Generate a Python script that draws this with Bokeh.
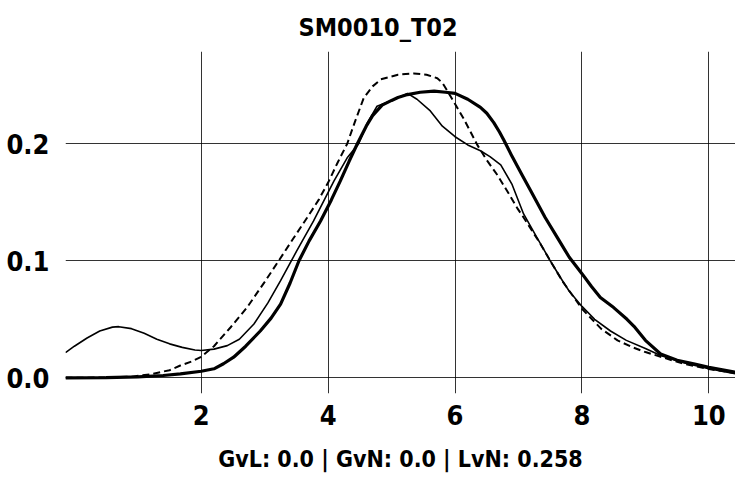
from bokeh.plotting import figure
from bokeh.models import Range1d, Title
from bokeh.embed import file_html
from bokeh.resources import INLINE

title_text = "SM0010_T02"
xlabel_text = "GvL: 0.0 | GvN: 0.0 | LvN: 0.258"
x_ticks = [2, 4, 6, 8, 10]
x_tick_labels = ["2", "4", "6", "8", "10"]
y_ticks = [0.0, 0.1, 0.2]
y_tick_labels = ["0.0", "0.1", "0.2"]

# thin solid series
thin_x = [-0.14, 0.0, 0.2, 0.4, 0.6, 0.7, 0.9, 1.1, 1.3, 1.5, 1.7, 1.9, 2.0, 2.2, 2.41,
          2.6, 2.83, 3.05, 3.25, 3.5, 3.77, 4.09, 4.3, 4.48, 4.62, 4.77, 5.0, 5.25, 5.4,
          5.61, 5.8, 6.0, 6.2, 6.4, 6.55, 6.72, 6.9, 7.08, 7.3, 7.5, 7.66, 7.8, 8.0, 8.2,
          8.45, 8.7, 9.0, 9.24, 9.6, 10.0, 10.42]
thin_y = [0.0216, 0.027, 0.034, 0.040, 0.0433, 0.0437, 0.042, 0.038, 0.033, 0.029, 0.026,
          0.0237, 0.0233, 0.0245, 0.0275, 0.033, 0.046, 0.064, 0.083, 0.108, 0.134, 0.168,
          0.188, 0.200, 0.218, 0.232, 0.237, 0.243, 0.238, 0.228, 0.215, 0.206, 0.199,
          0.194, 0.189, 0.182, 0.165, 0.140, 0.119, 0.100, 0.0857, 0.074, 0.061, 0.050,
          0.040, 0.032, 0.025, 0.019, 0.013, 0.0077, 0.0034]

# dashed series
dash_x = [-0.14, 0.5, 0.9, 1.2, 1.5, 1.67, 1.85, 2.0, 2.2, 2.46, 2.72, 3.0, 3.22, 3.45, 3.67,
          3.85, 4.01, 4.15, 4.30, 4.43, 4.56, 4.7, 4.83, 5.1, 5.35, 5.55, 5.72, 5.8, 5.88,
          6.0, 6.14, 6.35, 6.5, 6.67, 6.85, 6.98, 7.08, 7.35, 7.5, 7.7, 8.0, 8.3, 8.56, 8.8,
          9.0, 9.24, 9.6, 10.0, 10.42]
dash_y = [0.0, 0.0003, 0.001, 0.003, 0.0065, 0.0105, 0.014, 0.018, 0.027, 0.043, 0.060,
          0.082, 0.100, 0.119, 0.137, 0.152, 0.168, 0.184, 0.200, 0.220, 0.239, 0.249, 0.255,
          0.259, 0.260, 0.259, 0.256, 0.252, 0.245, 0.234, 0.221, 0.199, 0.186, 0.173, 0.157,
          0.145, 0.137, 0.114, 0.100, 0.082, 0.059, 0.042, 0.032, 0.026, 0.022, 0.018, 0.012,
          0.0075, 0.004]

# thick solid series
thick_x = [-0.14, 0.5, 1.0, 1.4, 1.67, 2.0, 2.2, 2.35, 2.51, 2.7, 2.93, 3.1, 3.25, 3.4, 3.54,
           3.7, 3.88, 4.05, 4.19, 4.33, 4.46, 4.6, 4.7, 4.85, 5.0, 5.1, 5.25, 5.45, 5.67, 5.85,
           6.0, 6.2, 6.4, 6.5, 6.61, 6.7, 6.77, 6.9, 7.05, 7.19, 7.42, 7.61, 7.8, 8.0, 8.15,
           8.29, 8.5, 8.71, 8.82, 9.0, 9.24, 9.5, 9.76, 10.0, 10.42]
thick_y = [0.0, 0.0002, 0.0008, 0.002, 0.0034, 0.0056, 0.0077, 0.012, 0.0176, 0.027, 0.040,
           0.051, 0.063, 0.081, 0.100, 0.117, 0.134, 0.152, 0.168, 0.185, 0.200, 0.215, 0.224,
           0.233, 0.237, 0.2395, 0.242, 0.244, 0.245, 0.244, 0.243, 0.238, 0.231, 0.226,
           0.218, 0.210, 0.203, 0.189, 0.174, 0.160, 0.137, 0.120, 0.103, 0.089, 0.078, 0.0687,
           0.060, 0.050, 0.044, 0.032, 0.0204, 0.015, 0.012, 0.009, 0.0048]

FONT = "'DejaVu Sans Condensed', 'Liberation Sans Narrow', sans-serif"

p = figure(width=735, height=482, output_backend="svg", toolbar_location=None,
           x_range=Range1d(-0.14, 10.42), y_range=Range1d(-0.0134, 0.2788),
           min_border_left=65, min_border_right=0, min_border_top=50, min_border_bottom=89)
p.outline_line_color = None
p.background_fill_color = "white"
p.border_fill_color = "white"

p.title = Title(text=title_text, align="left", offset=233, text_font=FONT,
                text_font_size="25px", text_font_style="bold", text_color="black", standoff=20)

for ax in (p.xaxis[0], p.yaxis[0]):
    ax.axis_line_color = None
    ax.major_tick_line_color = None
    ax.minor_tick_line_color = None
    ax.major_tick_out = 0
    ax.major_tick_in = 0
    ax.minor_tick_out = 0
    ax.major_label_text_font = FONT
    ax.major_label_text_font_size = "27px"
    ax.major_label_text_font_style = "bold"
    ax.major_label_text_color = "black"

p.xaxis.ticker = x_ticks
p.xaxis.major_label_overrides = {t: l for t, l in zip(x_ticks, x_tick_labels)}
p.yaxis.ticker = y_ticks
p.yaxis.major_label_overrides = {t: l for t, l in zip(y_ticks, y_tick_labels)}
p.xaxis.major_label_standoff = 11
p.yaxis.major_label_standoff = 16

p.xaxis.axis_label = xlabel_text
p.xaxis.axis_label_text_font = FONT
p.xaxis.axis_label_text_font_size = "23px"
p.xaxis.axis_label_text_font_style = "bold"
p.xaxis.axis_label_text_color = "black"
p.xaxis.axis_label_standoff = 18

for g in (p.xgrid[0], p.ygrid[0]):
    g.grid_line_color = "black"
    g.grid_line_alpha = 0.8
    g.grid_line_width = 1

p.line(thin_x, thin_y, line_color="black", line_width=1.6)
p.line(dash_x, dash_y, line_color="black", line_width=2, line_dash="7 4")
p.line(thick_x, thick_y, line_color="black", line_width=3.2)

open("out.html", "w").write(file_html(p, INLINE))
